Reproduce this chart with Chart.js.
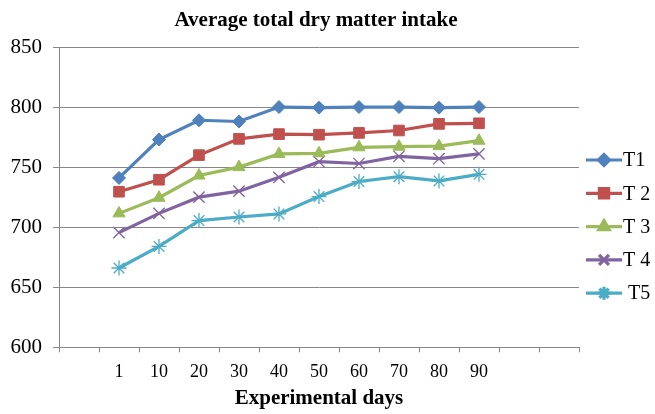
<!DOCTYPE html>
<html>
<head>
<meta charset="utf-8">
<script src="https://cdn.jsdelivr.net/npm/chart.js@4"></script>
<style>
  html, body { margin: 0; padding: 0; background: #fff; }
  #wrap { width: 655px; height: 414px; }
</style>
</head>
<body>
<div id="wrap"><canvas id="dmi-chart"></canvas></div>
<script>
// values
const days = ['1', '10', '20', '30', '40', '50', '60', '70', '80', '90'];
const seriesNames = ['T1', 'T 2', 'T 3', 'T 4', ' T5'];
const t1 = [741, 773, 789, 788, 800, 799.5, 800, 800, 799.5, 800];
const t2 = [729.5, 739.5, 760, 773.5, 777.5, 777, 778.5, 780.5, 786, 786.5];
const t3 = [711.5, 724.5, 743, 750, 761, 761.5, 766.5, 767, 767.5, 772];
const t4 = [695.5, 711.5, 725, 730, 741.5, 754.5, 753, 759, 757, 761];
const t5 = [666, 684, 705.5, 708.5, 711, 725.5, 738, 742, 738.5, 744];
const yTicks = [600, 650, 700, 750, 800, 850];

const SERIF = '"Liberation Serif", "Times New Roman", serif';
const GRID = '#878787';

// the excel axis has one empty slot before day 1 and two after day 90
const labels = [''].concat(days, ['', '']);
const pad = arr => [null].concat(arr, [null, null]);

const styles = [
    { color: '#4F81BD', point: 'rectRot', r: 6.5, bw: 1 },
    { color: '#C0504D', point: 'rect', r: 7.5, bw: 1 },
    { color: '#9BBB59', point: 'triangle', r: 7, bw: 1 },
    { color: '#8064A2', point: 'crossRot', r: 8, bw: 1.3 },
    { color: '#4BACC6', point: 'star', r: 7.5, bw: 1.3 }
];

const datasets = [t1, t2, t3, t4, t5].map((vals, i) => ({
    label: seriesNames[i],
    data: pad(vals),
    borderColor: styles[i].color,
    backgroundColor: styles[i].color,
    borderWidth: 3.2,
    tension: 0,
    pointStyle: styles[i].point,
    pointRadius: styles[i].r,
    pointBorderWidth: styles[i].bw,
    pointBackgroundColor: styles[i].color,
    pointBorderColor: styles[i].color
}));

const titlePlugin = {
    id: 'topTitle',
    afterDraw(chart) {
        const { ctx, chartArea } = chart;
        ctx.save();
        ctx.font = 'bold 21px ' + SERIF;
        ctx.fillStyle = '#000';
        ctx.textAlign = 'center';
        ctx.textBaseline = 'alphabetic';
        ctx.fillText('Average total dry matter intake', (chartArea.left + chartArea.right) / 2 - 3, 26);
        ctx.restore();
    }
};

const sideLegend = {
    id: 'sideLegend',
    afterDraw(chart) {
        const { ctx } = chart;
        ctx.save();
        chart.data.datasets.forEach((ds, i) => {
            const y = 160 + i * 33.3;
            ctx.strokeStyle = ds.borderColor;
            ctx.lineWidth = 3.2;
            ctx.beginPath();
            ctx.moveTo(586, y);
            ctx.lineTo(622, y);
            ctx.stroke();
            ctx.fillStyle = ds.backgroundColor;
            Chart.helpers.drawPoint(ctx, {
                pointStyle: ds.pointStyle,
                radius: ds.pointRadius - 1,
                rotation: 0,
                borderWidth: ds.pointBorderWidth
            }, 604, y);
            ctx.fillStyle = '#000';
            ctx.font = '20px ' + SERIF;
            ctx.textAlign = 'left';
            ctx.textBaseline = 'middle';
            ctx.fillText(ds.label, 623, y + 1);
        });
        ctx.restore();
    }
};

new Chart(document.getElementById('dmi-chart'), {
    type: 'line',
    data: { labels: labels, datasets: datasets },
    plugins: [titlePlugin, sideLegend],
    options: {
        responsive: true,
        maintainAspectRatio: false,
        animation: false,
        layout: { padding: { top: 47, right: 76, left: 0, bottom: 0 } },
        plugins: {
            legend: { display: false },
            tooltip: { enabled: false }
        },
        scales: {
            x: {
                offset: true,
                grid: { offset: true, drawOnChartArea: false, color: GRID, tickLength: 5 },
                border: { color: GRID, width: 1 },
                ticks: { color: '#000', font: { family: SERIF, size: 18 }, padding: 9, maxRotation: 0, autoSkip: false },
                title: {
                    display: true,
                    text: 'Experimental days',
                    color: '#000',
                    font: { family: SERIF, size: 21, weight: 'bold' },
                    padding: { top: 0, bottom: 3 }
                },
                afterFit(scale) { scale.height = 66.7; }
            },
            y: {
                min: 600,
                max: 850,
                afterBuildTicks(scale) { scale.ticks = yTicks.map(v => ({ value: v })); },
                grid: { color: GRID, tickLength: 6 },
                border: { color: GRID, width: 1 },
                ticks: { color: '#000', font: { family: SERIF, size: 21 }, padding: 11 },
                afterFit(scale) { scale.width = 59; }
            }
        }
    }
});
</script>
</body>
</html>
